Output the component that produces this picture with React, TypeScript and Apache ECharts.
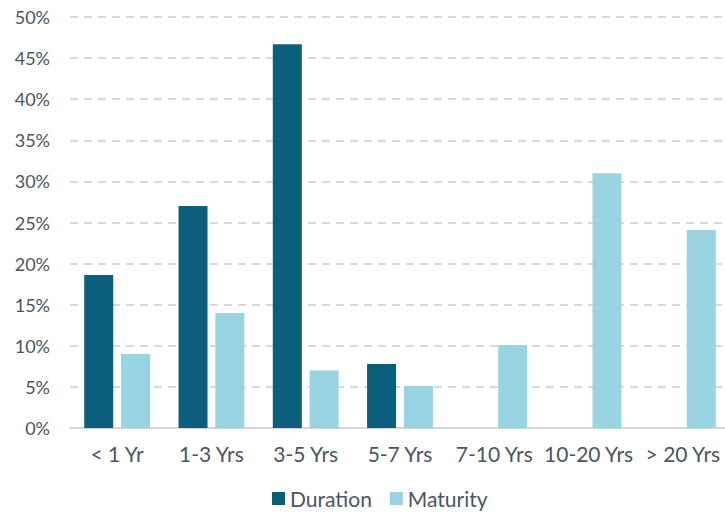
import React, { useEffect, useRef } from "react";
import * as echarts from "echarts";

const categories = ["< 1 Yr", "1-3 Yrs", "3-5 Yrs", "5-7 Yrs", "7-10 Yrs", "10-20 Yrs", "> 20 Yrs"];
const durationValues = [18.6, 27.0, 46.7, 7.8, 0, 0, 0];
const maturityValues = [9.0, 14.0, 7.0, 5.1, 10.1, 31.0, 24.1];

export default function App() {
  const ref = useRef<HTMLDivElement>(null);
  useEffect(() => {
    document.body.style.margin = "0";
    const chart = echarts.init(ref.current!, null, { renderer: "svg" });
    const font = "Lato";
    const textColor = "#4b5563";
    chart.setOption({
      animation: false,
      textStyle: { fontFamily: font },
      grid: { left: 70, width: 660, top: 17, bottom: 84, containLabel: false, outerBoundsMode: "none" },
      legend: {
        data: ["Duration", "Maturity"],
        left: 267,
        bottom: -2,
        itemWidth: 13,
        itemHeight: 13,
        itemGap: 18,
        icon: "rect",
        textStyle: { fontFamily: font, fontSize: 21, color: textColor },
      },
      xAxis: {
        type: "category",
        data: categories,
        axisLine: { lineStyle: { color: "#d6d6d6", width: 2 } },
        axisTick: { show: false },
        axisLabel: { fontFamily: font, fontSize: 21, color: textColor, margin: 15, interval: 0 },
      },
      yAxis: {
        type: "value",
        min: 0,
        max: 50,
        interval: 5,
        axisLabel: { formatter: "{value}%", fontFamily: font, fontSize: 18, color: textColor, margin: 20 },
        splitLine: { lineStyle: { color: "#d9d9d9", type: [8, 6], width: 2 } },
        axisLine: { show: false },
        axisTick: { show: false },
      },
      series: [
        {
          name: "Duration",
          type: "bar",
          data: durationValues,
          barWidth: 29,
          barGap: "27%",
          itemStyle: { color: "#0b5e7c" },
        },
        {
          name: "Maturity",
          type: "bar",
          data: maturityValues,
          barWidth: 29,
          itemStyle: { color: "#99d4e2" },
        },
      ],
    });
    return () => chart.dispose();
  }, []);
  return <div ref={ref} style={{ width: 725, height: 512 }} />;
}
